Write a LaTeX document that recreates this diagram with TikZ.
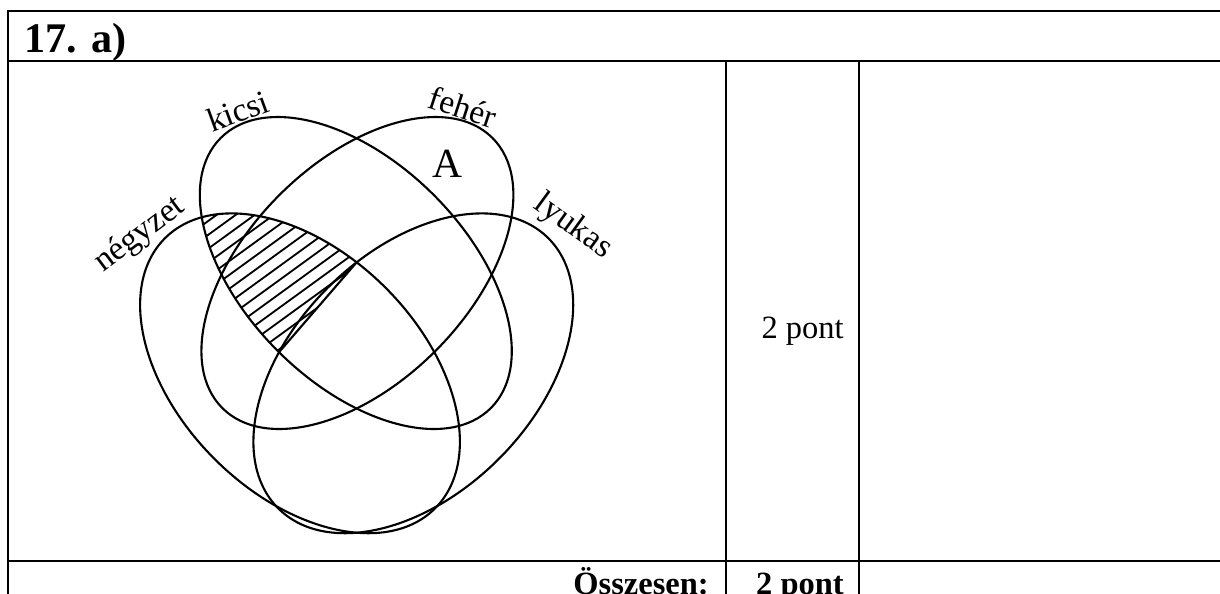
\documentclass[tikz,border=0pt]{standalone}
\usepackage{fontspec}
\setmainfont{Liberation Serif}
\usetikzlibrary{calc}

\begin{document}
\begin{tikzpicture}[x=0.025cm, y=0.025cm,
  rule/.style={line width=2.1pt, line cap=rect},
  venn/.style={line width=1.5pt},
  hatch/.style={line width=1.3pt},
  lbl/.style={inner sep=0pt, font=\fontsize{23.8}{28}\selectfont},
  cell/.style={inner sep=0pt, font=\fontsize{23.1}{28}\selectfont}]

% canvas: 1220 x 593 units (1 unit = 1 px of the sheet), y runs downward as negative
\useasboundingbox (0,0) rectangle (1220,-593);

%% ── table rules ──────────────────────────────────────────────────
\draw[rule] (8,-11)   -- (1230,-11);
\draw[rule] (8,-61)   -- (1230,-61);
\draw[rule] (8,-561)  -- (1230,-561);
\draw[rule] (8,-11)   -- (8,-600);
\draw[rule] (726,-61) -- (726,-600);
\draw[rule] (859,-61) -- (859,-600);

%% ── cell texts ───────────────────────────────────────────────────
\node[anchor=base west, inner sep=0pt, font=\bfseries\fontsize{30}{36}\selectfont]
  (title) at (24,-52) {17. a)};
\node[cell, anchor=base east] (pts) at (844,-338) {2 pont};
\node[cell, anchor=base east, font=\bfseries\fontsize{23.1}{28}\selectfont]
  (sumlbl) at (709,-594) {Összesen:};
\node[cell, anchor=base east, font=\bfseries\fontsize{23.1}{28}\selectfont]
  (sumpts) at (844,-594) {2 pont};

%% ── Venn centres ─────────────────────────────────────────────────
\coordinate (cNegy)  at (300,-373.3);
\coordinate (cLyuk)  at (413.3,-373.3);
\coordinate (cKicsi) at (355.8,-273);
\coordinate (cFeher) at (357.4,-273);
% ends of the straight border of the hatching
\coordinate (hTop) at (356.65,-262.3);
\coordinate (hBot) at (279,-352.2);

%% ── hatching: négyzet and kicsi, up to the border line ───────────
\begin{scope}
  \clip[rotate around={-45:(cKicsi)}] (cKicsi) ellipse [x radius=191, y radius=110.3];
  \clip[rotate around={-45:(cNegy)}] (cNegy) ellipse [x radius=191, y radius=121];
  \clip ($(hBot)!2!(hTop)$) -- ($(hTop)!2!(hBot)$) -- (0,-442) -- (0,0) -- (434,0) -- cycle;
  \begin{scope}[shift={(290,-300)}, rotate=36]
    \foreach \k in {-13,...,13}
      \draw[hatch] (-220,\k*11.2) -- (220,\k*11.2);
  \end{scope}
\end{scope}
\draw[venn] (hTop) -- (hBot);

%% ── the four sets ────────────────────────────────────────────────
\draw[venn, rotate around={-45:(cNegy)}]  (cNegy)  ellipse [x radius=191, y radius=121];
\draw[venn, rotate around={45:(cLyuk)}]   (cLyuk)  ellipse [x radius=191, y radius=121];
\draw[venn, rotate around={-45:(cKicsi)}] (cKicsi) ellipse [x radius=191, y radius=110.3];
\draw[venn, rotate around={45:(cFeher)}]  (cFeher) ellipse [x radius=191, y radius=110.3];

%% ── set names ────────────────────────────────────────────────────
\node[lbl, rotate=20]  (lKicsi) at (238,-111)   {kicsi};
\node[lbl, rotate=-18] (lFeher) at (463,-107)   {fehér};
\node[lbl, rotate=37]  (lNegy)  at (140,-235)   {négyzet};
\node[lbl, rotate=-36] (lLyuk)  at (573,-227)   {lyukas};
\node[inner sep=0pt, font=\fontsize{29.5}{34}\selectfont] (lA) at (447,-164) {A};

\end{tikzpicture}
\end{document}
